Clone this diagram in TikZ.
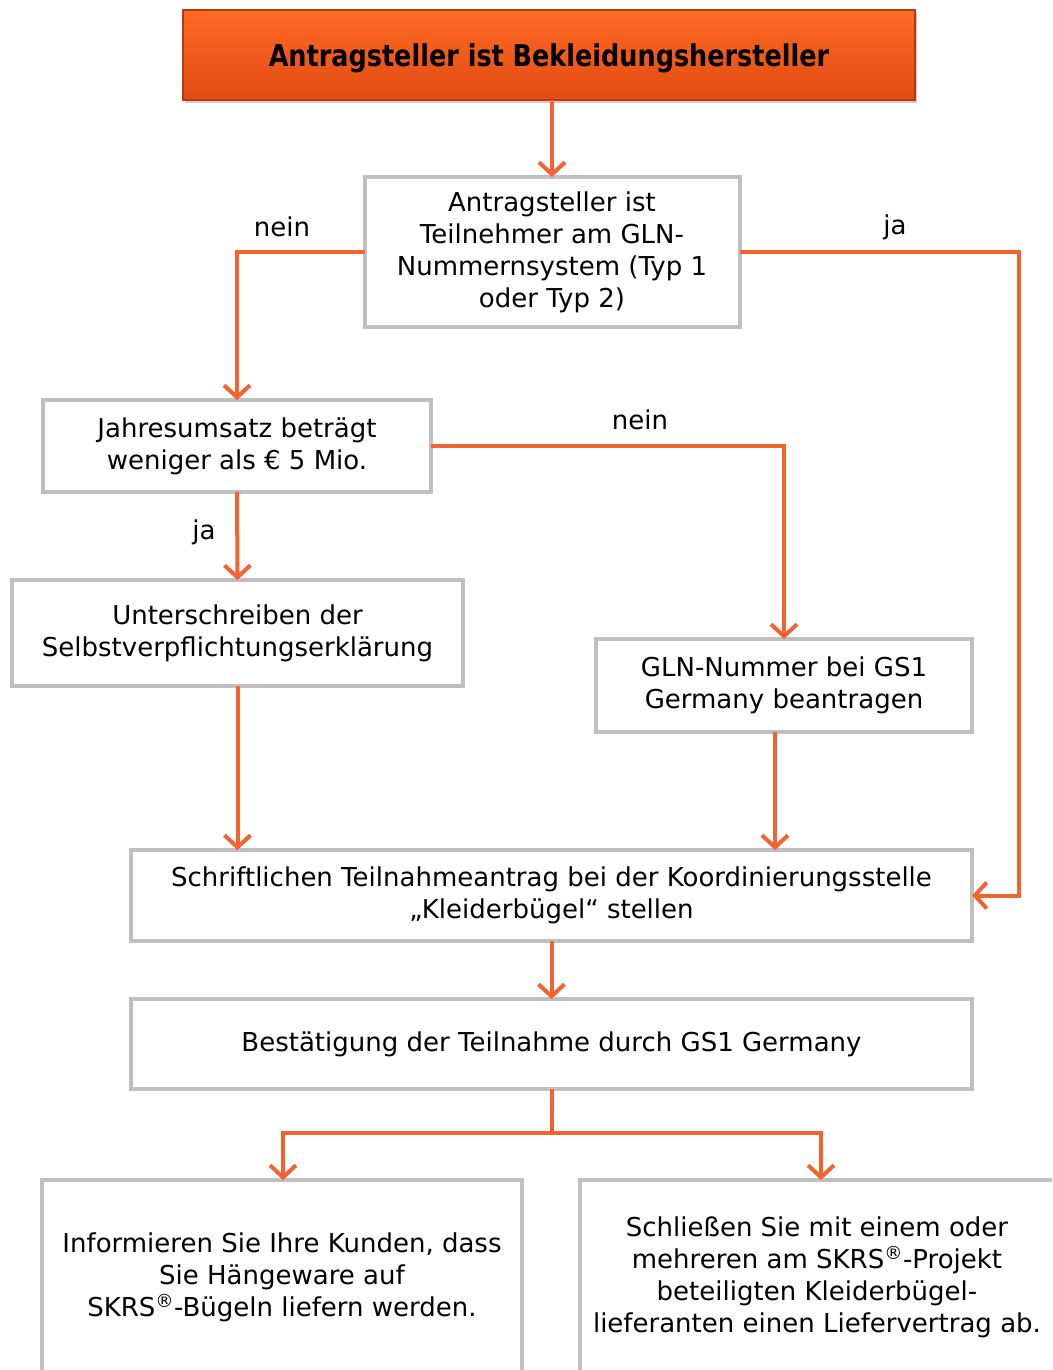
\documentclass[tikz,border=0pt]{standalone}
\usepackage{fontspec}
\setmainfont{DejaVu Sans}
\newfontfamily\titlefont{DejaVu Sans}[FakeStretch=0.85]
\usetikzlibrary{arrows.meta,shadows}
\definecolor{arr}{HTML}{F4622E}
\definecolor{bord}{HTML}{BFBFBF}
\definecolor{topA}{HTML}{FF6A24}
\definecolor{topB}{HTML}{E24A12}
\tikzset{
  box/.style={draw=bord, line width=4pt, fill=white, align=center, inner sep=0pt, outer sep=0pt,
    font=\fontsize{26}{32}\selectfont},
  conn/.style={draw=arr, line width=4pt, -{Straight Barb[length=12pt,width=26pt,line width=4pt]}},
  plain/.style={draw=arr, line width=4pt},
  lbl/.style={font=\fontsize{26}{30}\selectfont, inner sep=0pt}
}
\begin{document}
\begin{tikzpicture}[x=1pt,y=-1pt]
\clip (0,0) rectangle (1052,1370);
\fill[white] (0,0) rectangle (1052,1370);
\node[draw=topB!80!black, line width=1.5pt, top color=topA, bottom color=topB, minimum width=732pt, minimum height=90pt,
  inner sep=0pt, outer sep=0pt, drop shadow={shadow xshift=2pt, shadow yshift=-3pt, opacity=0.4},
  font=\titlefont\fontsize{30}{34}\selectfont\bfseries] (top) at (549,55) {\raisebox{-3pt}[\height][\depth]{Antragsteller ist Bekleidungshersteller}};
\node[box, minimum width=375pt, minimum height=150pt] (q1) at (552,252) {Antragsteller ist\\Teilnehmer am GLN-\\Nummernsystem (Typ 1\\oder Typ 2)};
\node[box, minimum width=388pt, minimum height=92pt] (q2) at (237,446) {Jahresumsatz beträgt\\weniger als € 5 Mio.};
\node[box, minimum width=451pt, minimum height=106pt] (sv) at (237.5,633) {Unterschreiben der\\Selbstverpflichtungserklärung};
\node[box, minimum width=376pt, minimum height=93pt] (gln) at (784,685.5) {GLN-Nummer bei GS1\\Germany beantragen};
\node[box, minimum width=841pt, minimum height=91pt] (antrag) at (551.5,895.5) {Schriftlichen Teilnahmeantrag bei der Koordinierungsstelle\\„Kleiderbügel“ stellen};
\node[box, minimum width=841pt, minimum height=90pt] (best) at (551.5,1044) {Bestätigung der Teilnahme durch GS1 Germany};
\node[box, minimum width=480pt, minimum height=194pt] (info) at (282,1277) {Informieren Sie Ihre Kunden, dass\\Sie Hängeware auf\\SKRS\textsuperscript{®}-Bügeln liefern werden.};
\node[box, minimum width=490pt, minimum height=194pt] (schl) at (825,1277) {};
\node[font=\fontsize{26}{32}\selectfont, align=center, inner sep=0pt] (schlt) at (817,1277) {Schließen Sie mit einem oder\\mehreren am SKRS\textsuperscript{®}-Projekt\\beteiligten Kleiderbügel-\\lieferanten einen Liefervertrag ab.};

\coordinate (c1) at (237,252);
\coordinate (c2) at (1019,252);
\coordinate (c3) at (784,446);
\coordinate (split) at (551.5,1133);
\coordinate (sl) at (283,1133);
\coordinate (sr) at (821,1133);

\draw[conn] (top.south -| q1.north) -- (q1.north);
\draw[conn] (q1.west) -- (c1) -- (c1 |- q2.north);
\draw[conn] (q1.east) -- (c2) -- (c2 |- antrag.east) -- (antrag.east);
\draw[conn] (q2.east) -- (c3) -- (c3 |- gln.north);
\draw[conn] (q2.south) -- (sv.north);
\draw[conn] (sv.south) -- (sv.south |- antrag.north);
\draw[conn] ([xshift=-9pt]gln.south) -- ([xshift=-9pt]gln.south |- antrag.north);
\draw[conn] (antrag.south) -- (best.north);
\draw[plain] (best.south) -- (split);
\draw[conn] (sl) -- (sl |- info.north);
\draw[conn] (sr) -- (sr |- schl.north);
\draw[plain] ([xshift=-2pt]sl) -- ([xshift=2pt]sr);

\node[lbl] (n1) at (282,227) {nein};
\node[lbl] (j1) at (895,227) {ja};
\node[lbl] (n2) at (640,420) {nein};
\node[lbl] (j2) at (204,532) {ja};
\end{tikzpicture}
\end{document}
